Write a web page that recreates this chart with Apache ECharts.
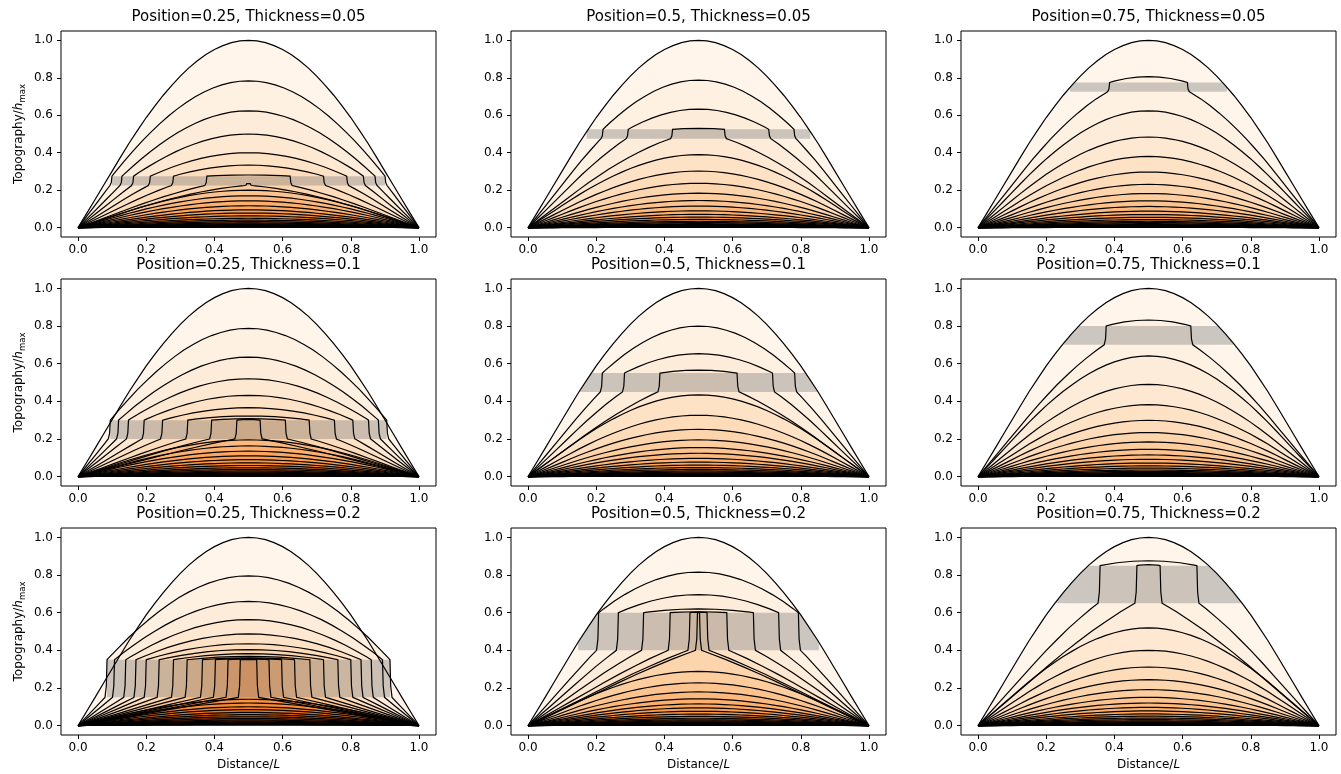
<!DOCTYPE html>
<html><head><meta charset="utf-8">
<script src="https://cdn.jsdelivr.net/npm/echarts@6/dist/echarts.min.js"></script>
<style>html,body{margin:0;padding:0;background:#fff}#c{width:1341px;height:774px}</style>
</head><body><div id="c"></div>
<script>
// ---------------- data ----------------
const xTicks = [0, 0.2, 0.4, 0.6, 0.8, 1.0];
const yTicks = [0, 0.2, 0.4, 0.6, 0.8, 1.0];
const positions = [0.25, 0.5, 0.75];
const thicknesses = [0.05, 0.1, 0.2];

// initial (top) profile, left half (relative height vs distance)
const profileX = [0, 0.025, 0.05, 0.075, 0.1, 0.125, 0.15, 0.175, 0.2, 0.225, 0.25, 0.275, 0.3, 0.325, 0.35, 0.375, 0.4, 0.425, 0.45, 0.475, 0.5];
const profileShape = [0, 0.075, 0.15, 0.226, 0.302, 0.378, 0.452, 0.521, 0.588, 0.649, 0.707, 0.76, 0.809, 0.853, 0.891, 0.924, 0.951, 0.972, 0.988, 0.997, 1.0];

// crest heights of successive profiles (oldest first) and x of the step each one makes in the hard layer (left side)
const peaksP25T05 = [1.0, 0.784, 0.624, 0.5, 0.4, 0.334, 0.281, 0.235, 0.2, 0.17, 0.143, 0.117, 0.095, 0.078, 0.063, 0.05, 0.04, 0.032, 0.025, 0.02, 0.016, 0.012, 0.01, 0.008, 0.006, 0.005, 0.004, 0.003];
const wallsP25T05 = [null, 0.0995, 0.129, 0.163, 0.212, 0.28, 0.378, 0.495];
const peaksP50T05 = [1.0, 0.788, 0.633, 0.53, 0.39, 0.302, 0.237, 0.184, 0.145, 0.115, 0.09, 0.071, 0.056, 0.044, 0.034, 0.027, 0.021, 0.017, 0.013, 0.01, 0.008, 0.006, 0.005, 0.004, 0.003, 0.002, 0.002, 0.001];
const wallsP50T05 = [null, 0.22, 0.294, 0.424];
const peaksP75T05 = [1.0, 0.806, 0.624, 0.484, 0.38, 0.297, 0.231, 0.182, 0.143, 0.113, 0.088, 0.07, 0.055, 0.043, 0.034, 0.027, 0.021, 0.016, 0.013, 0.01, 0.008, 0.006, 0.005, 0.004, 0.003, 0.002, 0.002, 0.001];
const wallsP75T05 = [null, 0.386];

const peaksP25T10 = [1.0, 0.788, 0.635, 0.52, 0.432, 0.366, 0.322, 0.308, 0.304, 0.195, 0.163, 0.135, 0.11, 0.09, 0.073, 0.059, 0.047, 0.038, 0.03, 0.024, 0.019, 0.015, 0.012, 0.009, 0.007, 0.005, 0.004, 0.003];
const wallsP25T10 = [null, 0.0946, 0.119, 0.148, 0.194, 0.248, 0.322, 0.392, 0.466];
const peaksP50T10 = [1.0, 0.8, 0.653, 0.566, 0.434, 0.326, 0.251, 0.195, 0.154, 0.124, 0.097, 0.077, 0.061, 0.048, 0.038, 0.03, 0.024, 0.019, 0.015, 0.012, 0.009, 0.007, 0.006, 0.005, 0.004, 0.003, 0.002, 0.001];
const wallsP50T10 = [null, 0.218, 0.283, 0.387];
const peaksP75T10 = [1.0, 0.832, 0.641, 0.49, 0.382, 0.299, 0.234, 0.184, 0.145, 0.115, 0.092, 0.072, 0.057, 0.045, 0.035, 0.028, 0.022, 0.017, 0.014, 0.011, 0.008, 0.007, 0.005, 0.004, 0.003, 0.002, 0.002, 0.001];
const wallsP75T10 = [null, 0.376];

const peaksP25T20 = [1.0, 0.796, 0.66, 0.563, 0.487, 0.435, 0.404, 0.382, 0.368, 0.36, 0.356, 0.354, 0.352, 0.14, 0.12, 0.1, 0.085, 0.07, 0.058, 0.047, 0.038, 0.03, 0.024, 0.018, 0.014, 0.01, 0.007, 0.005];
const wallsP25T20 = [null, 0.085, 0.107, 0.14, 0.17, 0.2, 0.238, 0.28, 0.32, 0.365, 0.403, 0.44, 0.476];
const peaksP50T20 = [1.0, 0.816, 0.696, 0.62, 0.605, 0.603, 0.601, 0.288, 0.227, 0.179, 0.142, 0.115, 0.094, 0.076, 0.061, 0.049, 0.039, 0.031, 0.025, 0.02, 0.016, 0.012, 0.009, 0.007, 0.005, 0.004, 0.003, 0.002];
const wallsP50T20 = [null, 0.207, 0.265, 0.339, 0.417, 0.475, 0.497];
const peaksP75T20 = [1.0, 0.876, 0.855, 0.519, 0.4, 0.311, 0.244, 0.191, 0.15, 0.12, 0.097, 0.078, 0.062, 0.05, 0.04, 0.032, 0.025, 0.02, 0.016, 0.012, 0.009, 0.007, 0.005, 0.004, 0.003, 0.002, 0.002, 0.001];
const wallsP75T20 = [null, 0.358, 0.466];

// left x of the shaded hard-layer band
const bandStarts = [[0.0995, 0.172, 0.27], [0.0946, 0.147, 0.25], [0.085, 0.147, 0.226]];

const panelPeaks = [[peaksP25T05, peaksP50T05, peaksP75T05], [peaksP25T10, peaksP50T10, peaksP75T10], [peaksP25T20, peaksP50T20, peaksP75T20]];
const panelWalls = [[wallsP25T05, wallsP50T05, wallsP75T05], [wallsP25T10, wallsP50T10, wallsP75T10], [wallsP25T20, wallsP50T20, wallsP75T20]];

// ---------------- style ----------------
const FONT = 'DejaVu Sans';
const orangesAnchors = ['#fff5eb', '#fee6ce', '#fdd0a2', '#fdae6b', '#fd8d3c', '#f16913', '#d94801', '#a63603', '#7f2704'];
const colLeft = [61, 511, 961];
const rowTop = [31, 279, 528];
const rowH = [206, 207, 207];
const gridW = 375;
const titleTop = [10, 258, 507];

function hexToRgb(h) { return [parseInt(h.slice(1, 3), 16), parseInt(h.slice(3, 5), 16), parseInt(h.slice(5, 7), 16)]; }
function cmap(t) {
  t = Math.max(0, Math.min(1, t));
  const n = orangesAnchors.length - 1;
  const p = t * n; const k = Math.min(n - 1, Math.floor(p)); const f = p - k;
  const a = hexToRgb(orangesAnchors[k]), b = hexToRgb(orangesAnchors[k + 1]);
  return 'rgb(' + a.map((v, j) => Math.round(v + (b[j] - v) * f)).join(',') + ')';
}

function invShape(v) {
  if (v <= 0) return 0; if (v >= 1) return 0.5;
  for (let k = 1; k < profileShape.length; k++) {
    if (v <= profileShape[k]) { const t = (v - profileShape[k - 1]) / (profileShape[k] - profileShape[k - 1]); return profileX[k - 1] + t * (profileX[k] - profileX[k - 1]); }
  }
  return 0.5;
}
function halfProfile(A, xw, b0, b1) {
  const pts = [];
  if (xw == null) { profileX.forEach((x, k) => pts.push([x, A * profileShape[k]])); return pts; }
  const d = 0.006;
  const xb = xw - d;
  const xlo = invShape(b0 / A);
  const sc = xb / xlo;
  for (let k = 0; k < profileX.length; k++) if (profileX[k] < xlo - 1e-9) pts.push([profileX[k] * sc, A * profileShape[k]]);
  pts.push([xb, b0]);
  const top = Math.min(A, b1);
  pts.push([xw - d * 0.35, b0 + 0.3 * (top - b0)]);
  pts.push([xw, top]);
  if (A > b1) {
    const xhi = invShape(b1 / A);
    const r = (0.5 - xw) / (0.5 - xhi);
    for (let k = 0; k < profileX.length; k++) if (profileX[k] > xhi + 1e-9) pts.push([xw + (profileX[k] - xhi) * r, A * profileShape[k]]);
  }
  const last = pts[pts.length - 1];
  if (last[0] < 0.5) pts.push([0.5, last[1]]);
  return pts;
}
function fullProfile(A, xw, b0, b1) {
  const h = halfProfile(A, xw, b0, b1);
  const right = h.slice(0, -1).reverse().map(p => [1 - p[0], p[1]]);
  return h.concat(right);
}
function interpProfile(pts, x) {
  for (let k = 1; k < pts.length; k++) {
    if (x <= pts[k][0]) {
      const dx = pts[k][0] - pts[k - 1][0];
      if (dx <= 0) return Math.max(pts[k][1], pts[k - 1][1]);
      const t = (x - pts[k - 1][0]) / dx; return pts[k - 1][1] + t * (pts[k][1] - pts[k - 1][1]);
    }
  }
  return 0;
}

const titles = [], grids = [], xAxes = [], yAxes = [], series = [];
for (let r = 0; r < 3; r++) {
  for (let c = 0; c < 3; c++) {
    const g = r * 3 + c;
    const pos = positions[c], thk = thicknesses[r];
    const b0 = pos - thk / 2, b1 = pos + thk / 2;
    const peaks = panelPeaks[r][c], walls = panelWalls[r][c];
    const N = peaks.length;
    const curves = peaks.map((A, i) => fullProfile(A, walls[i] == null ? null : walls[i], b0, b1));
    const colors = peaks.map((A, i) => cmap(i / (N - 1)));
    const bs = bandStarts[r][c];
    const band = [];
    for (let x = bs; x <= 1 - bs + 1e-9; x += 0.002) {
      let env = 0; curves.forEach(cv => { env = Math.max(env, interpProfile(cv, x)); });
      band.push([x, Math.max(b0, Math.min(b1, env))]);
    }
    band.push([1 - bs, band[band.length - 1][1]]);
    band.push([1 - bs, b0]); band.push([bs, b0]);

    titles.push({
      text: 'Position=' + pos + ', Thickness=' + thk,
      left: colLeft[c] + gridW / 2, top: titleTop[r], textAlign: 'center', padding: 0,
      textStyle: { fontFamily: FONT, fontSize: 15, fontWeight: 'normal', color: '#000' }
    });
    grids.push({ left: colLeft[c], top: rowTop[r], width: gridW, height: rowH[r], show: true, borderColor: '#000', borderWidth: 1, backgroundColor: 'transparent', containLabel: false, outerBoundsMode: 'none' });
    xAxes.push({
      type: 'value', gridIndex: g, min: -0.05, max: 1.05, position: 'bottom',
      splitLine: { show: false }, axisLine: { show: false, onZero: false },
      axisTick: { show: true, length: 4, customValues: xTicks, lineStyle: { color: '#000', width: 1 } },
      axisLabel: { customValues: xTicks, formatter: v => v.toFixed(1), color: '#000', fontSize: 12, margin: 7, fontFamily: FONT },
      name: r === 2 ? '{n|Distance/}{i|L}' : '', nameLocation: 'middle', nameGap: 24,
      nameTextStyle: { color: '#000', fontSize: 12, fontFamily: FONT, rich: { n: { fontSize: 12, fontFamily: FONT, color: '#000' }, i: { fontSize: 12, fontFamily: FONT, fontStyle: 'italic', color: '#000' } } }
    });
    yAxes.push({
      type: 'value', gridIndex: g, min: -0.05, max: 1.05, position: 'left',
      splitLine: { show: false }, axisLine: { show: false, onZero: false },
      axisTick: { show: true, length: 4, customValues: yTicks, lineStyle: { color: '#000', width: 1 } },
      axisLabel: { customValues: yTicks, formatter: v => v.toFixed(1), color: '#000', fontSize: 12, margin: 8, fontFamily: FONT },
      name: c === 0 ? '{n|Topography/}{i|h}{s|max}' : '', nameLocation: 'middle', nameGap: 34, nameRotate: 90,
      nameTextStyle: { color: '#000', fontSize: 12, fontFamily: FONT, rich: { n: { fontSize: 12, fontFamily: FONT, color: '#000' }, i: { fontSize: 12, fontFamily: FONT, fontStyle: 'italic', color: '#000' }, s: { fontSize: 8.5, fontFamily: FONT, color: '#000', padding: [7, 0, 0, 0] } } }
    });
    const data = peaks.map((A, i) => ({ value: [0.5, A] }));
    series.push({
      type: 'custom', coordinateSystem: 'cartesian2d', xAxisIndex: g, yAxisIndex: g, z: 1, silent: true, animation: false,
      data: data,
      renderItem: (params, api) => ({ type: 'polygon', shape: { points: curves[params.dataIndex].map(p => api.coord(p)) }, style: { fill: colors[params.dataIndex] } })
    });
    series.push({
      type: 'custom', coordinateSystem: 'cartesian2d', xAxisIndex: g, yAxisIndex: g, z: 2, silent: true, animation: false,
      data: [{ value: [0.5, b1] }],
      renderItem: (params, api) => ({ type: 'polygon', shape: { points: band.map(p => api.coord(p)) }, style: { fill: 'rgba(128,128,128,0.4)' } })
    });
    series.push({
      type: 'custom', coordinateSystem: 'cartesian2d', xAxisIndex: g, yAxisIndex: g, z: 3, silent: true, animation: false,
      data: data,
      renderItem: (params, api) => ({ type: 'polyline', shape: { points: curves[params.dataIndex].map(p => api.coord(p)) }, style: { fill: null, stroke: '#000', lineWidth: 1.2 } })
    });
  }
}

const chart = echarts.init(document.getElementById('c'), null, { renderer: 'canvas' });
chart.setOption({
  animation: false,
  backgroundColor: '#fff',
  title: titles, grid: grids, xAxis: xAxes, yAxis: yAxes, series: series
});
</script>
</body></html>
